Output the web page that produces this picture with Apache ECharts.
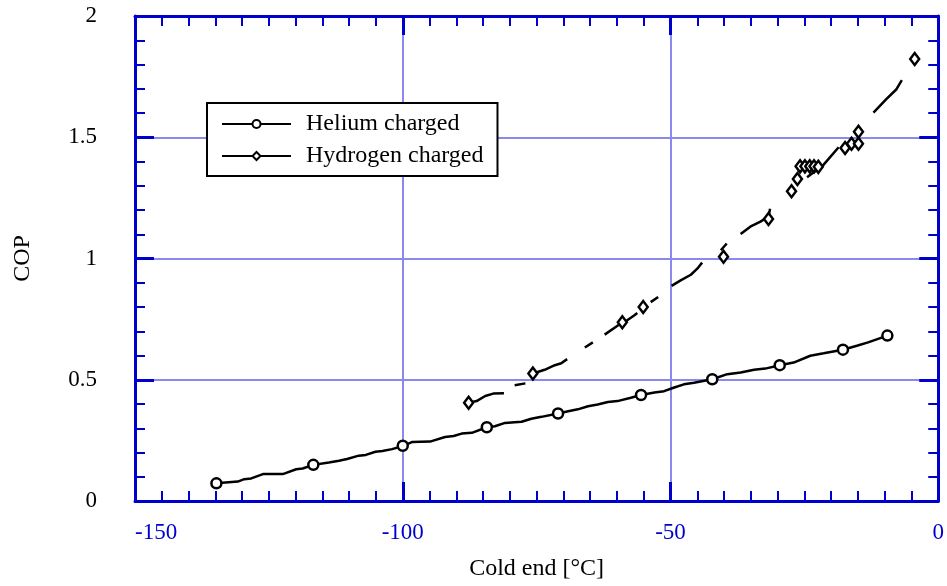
<!DOCTYPE html>
<html>
<head>
<meta charset="utf-8">
<script src="https://cdn.jsdelivr.net/npm/echarts@6/dist/echarts.min.js"></script>
<style>
html, body { margin: 0; padding: 0; background: #fff; }
#main { width: 947px; height: 586px; }
</style>
</head>
<body>
<div id="main"></div>
<script>
// Helium charged - traced curve
var heliumX = [-134.8, -130.8, -129.6, -128.3, -126.1, -122.4, -119.9, -118.7, -116.7, -113.8,
    -111.9, -110.4, -108.2, -106.9, -105.1, -103.8, -102.0, -99.8, -98.3, -94.9,
    -92.1, -90.5, -89.0, -87.1, -84.3, -82.8, -80.9, -79.1, -77.8, -76.0,
    -74.1, -71.0, -69.1, -67.3, -65.4, -63.6, -61.7, -59.9, -57.4, -55.5,
    -53.0, -51.2, -49.3, -47.5, -45.6, -42.2, -39.4, -36.9, -34.4, -32.3,
    -29.6, -27.0, -23.9, -21.4, -17.8, -15.2, -13.1, -9.5];
var heliumY = [0.073, 0.080, 0.090, 0.093, 0.111, 0.111, 0.131, 0.134, 0.149, 0.159,
    0.166, 0.173, 0.187, 0.190, 0.203, 0.206, 0.214, 0.228, 0.243, 0.245,
    0.264, 0.268, 0.278, 0.281, 0.304, 0.308, 0.322, 0.325, 0.327, 0.339,
    0.347, 0.361, 0.370, 0.378, 0.391, 0.398, 0.408, 0.412, 0.426, 0.437,
    0.447, 0.453, 0.468, 0.481, 0.488, 0.502, 0.523, 0.530, 0.541, 0.546,
    0.560, 0.571, 0.599, 0.609, 0.624, 0.640, 0.654, 0.682];
// helium markers
var heliumMarkX = [-134.8, -116.7, -100.0, -84.3, -71.0, -55.5, -42.2, -29.6, -17.8, -9.5];
var heliumMarkY = [0.073, 0.149, 0.228, 0.304, 0.361, 0.437, 0.502, 0.560, 0.624, 0.682];

// Hydrogen charged - broken (dashed) curve, null = gap
var hydrogenX = [-87.7, -86.2, -84.6, -83.1, -81.1, null,
    -79.1, -77.1, null,
    -75.7, -73.5, -71.6, -70.4, -69.3, null,
    -66.0, -64.5, null,
    -62.3, -59.9, -58.9, -56.8, -56.2, null,
    -53.7, -52.3, null,
    -49.8, -48.1, -46.2, -45.0, -44.1, null,
    -40.6, -39.5, null,
    -36.9, -35.1, -33.2, -31.7, -31.4, null,
    -24.5, -21.4, -18.6, null,
    -12.1, -9.7, -7.8, -6.8];
var hydrogenY = [0.405, 0.412, 0.433, 0.443, 0.444, null,
    0.477, 0.485, null,
    0.526, 0.541, 0.560, 0.568, 0.585, null,
    0.633, 0.654, null,
    0.686, 0.723, 0.733, 0.765, 0.775, null,
    0.820, 0.841, null,
    0.887, 0.910, 0.933, 0.958, 0.983, null,
    1.034, 1.062, null,
    1.101, 1.131, 1.152, 1.173, 1.205, null,
    1.335, 1.387, 1.459, null,
    1.602, 1.657, 1.698, 1.736];
// hydrogen markers
var hydrogenMarkX = [-87.7, -75.7, -59.0, -55.1, -40.1, -31.7, -27.4, -26.3, -25.8, -24.9,
    -24.0, -23.2, -22.4, -17.4, -16.2, -14.9, -14.9, -4.4];
var hydrogenMarkY = [0.405, 0.526, 0.737, 0.800, 1.007, 1.163, 1.277, 1.328, 1.380, 1.380,
    1.380, 1.380, 1.378, 1.456, 1.473, 1.473, 1.523, 1.823];

var serif = '"Liberation Serif", "Times New Roman", serif';
var frameBlue = '#0000cc';
var gridBlue = '#8a8aee';

function pairs(xs, ys) {
    var out = [];
    for (var i = 0; i < xs.length; i++) {
        if (xs[i] === null || ys[i] === null) out.push([xs[i] === null ? '-' : xs[i], '-']);
        else out.push([xs[i], ys[i]]);
    }
    return out;
}

// one side of the blue frame, ticks pointing inward
function frameAxis(pos, isX) {
    return {
        type: 'value',
        position: pos,
        min: isX ? -150 : 0,
        max: isX ? 0 : 2,
        interval: isX ? 50 : 0.5,
        axisLine: { show: true, onZero: false, lineStyle: { color: frameBlue, width: 3 } },
        axisTick: { show: true, inside: true, length: 19, lineStyle: { color: frameBlue, width: 3 } },
        minorTick: { show: true, splitNumber: isX ? 10 : 5, length: 10, lineStyle: { color: frameBlue, width: 2 } },
        axisLabel: { show: false },
        splitLine: { show: false }
    };
}

var xMain = frameAxis('bottom', true);
xMain.name = 'Cold end [°C]';
xMain.nameLocation = 'middle';
xMain.nameGap = 56;
xMain.nameTextStyle = { color: '#000', fontSize: 24, fontFamily: serif };
xMain.axisLabel = { show: true, color: frameBlue, fontSize: 23, fontFamily: serif, margin: 20, alignMinLabel: 'left' };
xMain.splitLine = { show: true, showMinLine: false, showMaxLine: false, lineStyle: { color: gridBlue, width: 2 } };

var yMain = frameAxis('left', false);
yMain.name = 'COP';
yMain.nameLocation = 'middle';
yMain.nameGap = 100;
yMain.nameTextStyle = { color: '#000', fontSize: 24, fontFamily: serif };
yMain.axisLabel = { show: true, color: '#000', fontSize: 23, fontFamily: serif, margin: 38, padding: [8, 0, 0, 0] };
yMain.splitLine = { show: true, showMinLine: false, showMaxLine: false, lineStyle: { color: gridBlue, width: 2 } };

var chart = echarts.init(document.getElementById('main'));
var option = {
    animation: false,
    backgroundColor: '#fff',
    grid: { left: 135, right: 5, top: 16, bottom: 85 },
    xAxis: [xMain, frameAxis('top', true)],
    yAxis: [yMain, frameAxis('right', false)],
    legend: {
        orient: 'vertical',
        left: 207,
        top: 103,
        padding: [9, 14, 8, 14],
        backgroundColor: '#fff',
        borderColor: '#000',
        borderWidth: 2,
        itemWidth: 69,
        itemHeight: 10,
        itemGap: 8,
        selectedMode: false,
        textStyle: { color: '#000', fontSize: 24, fontFamily: serif, padding: [0, 0, 0, 10] },
        data: ['Helium charged', 'Hydrogen charged']
    },
    series: [
        {
            name: 'Helium charged',
            type: 'line',
            data: pairs(heliumX, heliumY),
            symbol: 'emptyCircle',
            showSymbol: false,
            lineStyle: { color: '#000', width: 2.5 },
            itemStyle: { color: '#000' },
            z: 3
        },
        {
            name: 'Hydrogen charged',
            type: 'line',
            data: pairs(hydrogenX, hydrogenY),
            connectNulls: false,
            symbol: 'emptyDiamond',
            showSymbol: false,
            lineStyle: { color: '#000', width: 2.5 },
            itemStyle: { color: '#000' },
            z: 3
        },
        {
            name: 'helium points',
            type: 'scatter',
            data: pairs(heliumMarkX, heliumMarkY),
            symbol: 'circle',
            symbolSize: 10,
            itemStyle: { color: '#fff', borderColor: '#000', borderWidth: 2.5, opacity: 1 },
            z: 4
        },
        {
            name: 'hydrogen points',
            type: 'scatter',
            data: pairs(hydrogenMarkX, hydrogenMarkY),
            symbol: 'diamond',
            symbolSize: [9, 12],
            itemStyle: { color: '#fff', borderColor: '#000', borderWidth: 2.5, opacity: 1 },
            z: 4
        }
    ]
};
chart.setOption(option);
</script>
</body>
</html>
